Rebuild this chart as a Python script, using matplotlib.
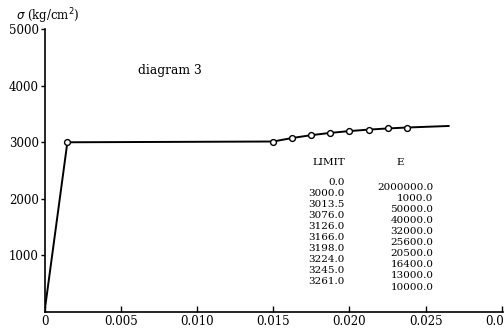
import matplotlib
matplotlib.use("Agg")
import matplotlib.pyplot as plt

# Stress-strain polyline (strain, stress in kg/cm^2)
strain = [0.0, 0.0015, 0.0150, 0.01625, 0.0175, 0.01875, 0.0200, 0.02127, 0.02255, 0.02378, 0.0265]
stress = [0.0, 3000.0, 3013.5, 3076.0, 3126.0, 3166.0, 3198.0, 3224.0, 3245.0, 3261.0, 3288.0]
# break points drawn as open circles (indices into the polyline)
marker_idx = [1, 2, 3, 4, 5, 6, 7, 8, 9]

# Table of limits and moduli
limit_vals = ["0.0", "3000.0", "3013.5", "3076.0", "3126.0", "3166.0", "3198.0", "3224.0", "3245.0", "3261.0"]
e_vals = ["2000000.0", "1000.0", "50000.0", "40000.0", "32000.0", "25600.0", "20500.0", "16400.0", "13000.0", "10000.0"]

xticks = [0, 0.005, 0.010, 0.015, 0.020, 0.025, 0.030]
xticklabels = ["0", "0.005", "0.010", "0.015", "0.020", "0.025", "0.030"]
yticks = [1000, 2000, 3000, 4000, 5000]

plt.rcParams["font.family"] = ["DejaVu Serif"]

fig = plt.figure(figsize=(5.04, 3.31), dpi=100)
ax = fig.add_axes([0.0883, 0.0574, 0.9107, 0.8546])

ax.plot(strain, stress, color="black", lw=1.4, zorder=2)
ax.plot([strain[i] for i in marker_idx], [stress[i] for i in marker_idx],
        ls="none", marker="o", ms=4.2, mfc="white", mec="black", mew=1.0, zorder=3)

ax.set_xlim(0, 0.0301)
ax.set_ylim(0, 5000)
for s in ("top", "right"):
    ax.spines[s].set_visible(False)
for s in ("left", "bottom"):
    ax.spines[s].set_linewidth(1.2)

ax.set_xticks(xticks)
ax.set_xticklabels(xticklabels)
ax.set_yticks(yticks)
ax.tick_params(axis="x", direction="in", length=4, width=1, labelsize=8.5, pad=2)
ax.tick_params(axis="y", direction="out", length=3, width=1, labelsize=8.5, pad=1)

fig.text(0.031, 0.952, r"$\sigma$ (kg/cm$^2$)", fontsize=8.5, ha="left", va="center")

ax.text(0.00615, 4265, "diagram 3", fontsize=8.8, ha="left", va="center")

ax.text(0.0197, 2640, "LIMIT", fontsize=7.5, ha="right", va="center")
ax.text(0.0233, 2640, "E", fontsize=7.5, ha="center", va="center")
for k, (lv, ev) in enumerate(zip(limit_vals, e_vals)):
    y0 = 2295 - k * 196
    ax.text(0.0197, y0, lv, fontsize=7.5, ha="right", va="center")
    ax.text(0.0255, y0 - 90, ev, fontsize=7.5, ha="right", va="center")

fig.savefig("out.png", dpi=100)
